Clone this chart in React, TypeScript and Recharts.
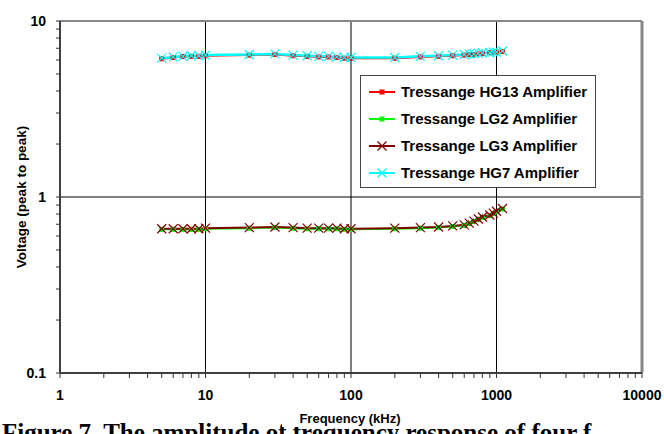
import React from "react";
import { LineChart, Line, XAxis, YAxis, ReferenceLine, Legend } from "recharts";

const freqs = [5, 6, 7, 8, 9, 10, 20, 30, 40, 50, 60, 70, 80, 90, 100, 200, 300, 400, 500, 600, 650, 700, 750, 800, 900, 950, 1000, 1100];
const hg13 = [6.1, 6.2, 6.28, 6.3, 6.3, 6.35, 6.4, 6.45, 6.35, 6.3, 6.25, 6.25, 6.2, 6.15, 6.15, 6.15, 6.25, 6.3, 6.35, 6.4, 6.45, 6.45, 6.5, 6.55, 6.6, 6.6, 6.65, 6.7];
const lg2 = [0.655, 0.655, 0.655, 0.655, 0.655, 0.66, 0.665, 0.67, 0.665, 0.66, 0.66, 0.66, 0.66, 0.655, 0.655, 0.66, 0.665, 0.67, 0.68, 0.69, 0.705, 0.725, 0.745, 0.765, 0.785, 0.805, 0.825, 0.855];
const lg3 = [0.66, 0.66, 0.66, 0.66, 0.66, 0.665, 0.67, 0.675, 0.67, 0.665, 0.665, 0.665, 0.665, 0.66, 0.66, 0.665, 0.67, 0.675, 0.685, 0.695, 0.71, 0.73, 0.75, 0.77, 0.79, 0.81, 0.83, 0.86];
const hg7 = [6.15, 6.25, 6.3, 6.35, 6.35, 6.4, 6.45, 6.5, 6.4, 6.35, 6.3, 6.3, 6.25, 6.2, 6.2, 6.2, 6.3, 6.35, 6.4, 6.45, 6.5, 6.5, 6.55, 6.6, 6.6, 6.65, 6.65, 6.75];

const xMajor = [1, 10, 100, 1000, 10000];
const xMinor = [2, 3, 4, 5, 6, 7, 8, 9, 20, 30, 40, 50, 60, 70, 80, 90, 200, 300, 400, 500, 600, 700, 800, 900, 2000, 3000, 4000, 5000, 6000, 7000, 8000, 9000];
const yMajor = [0.1, 1, 10];
const yMinor = [0.2, 0.3, 0.4, 0.5, 0.6, 0.7, 0.8, 0.9, 2, 3, 4, 5, 6, 7, 8, 9];
const gridX = [10, 100, 1000];
const gridY = [1];

const series = [
  { key: "hg13", name: "Tressange HG13 Amplifier", color: "#ff0000", marker: "square", width: 2 },
  { key: "lg2", name: "Tressange LG2 Amplifier", color: "#00ff00", marker: "square", width: 2 },
  { key: "lg3", name: "Tressange LG3 Amplifier", color: "#800000", marker: "x", width: 2 },
  { key: "hg7", name: "Tressange HG7 Amplifier", color: "#00ffff", marker: "x", width: 2.5 },
];

const data = freqs.map((f, i) => ({ f, hg13: hg13[i], lg2: lg2[i], lg3: lg3[i], hg7: hg7[i] }));

const FONT = "Arial, 'Liberation Sans', sans-serif";

function Marker({ cx, cy, type, color }: any) {
  if (cx == null || cy == null) return <g />;
  if (type === "square") {
    return <rect x={cx - 2} y={cy - 2} width={4} height={4} fill={color} stroke={color} />;
  }
  const s = 4.5;
  return (
    <g stroke={color} strokeWidth={1.2}>
      <line x1={cx - s} y1={cy - s} x2={cx + s} y2={cy + s} />
      <line x1={cx - s} y1={cy + s} x2={cx + s} y2={cy - s} />
    </g>
  );
}

const XTick = (props: any) => {
  const { x, y, payload } = props;
  const v = payload.value;
  const major = xMajor.some((m) => Math.abs(m - v) < 1e-9 * m);
  return (
    <g>
      <line x1={x} x2={x} y1={y} y2={y + 5} stroke="#333" strokeWidth={1} />
      {major && (
        <text x={x} y={y + 27} textAnchor="middle" fontFamily={FONT} fontWeight="bold" fontSize={14} fill="#000">
          {String(v)}
        </text>
      )}
    </g>
  );
};

const YTick = (props: any) => {
  const { x, y, payload } = props;
  const v = payload.value;
  const major = yMajor.some((m) => Math.abs(m - v) < 1e-9 * m);
  return (
    <g>
      <line x1={x - 4} x2={x} y1={y} y2={y} stroke="#333" strokeWidth={1} />
      {major && (
        <text x={x - 14} y={y} dy="0.35em" textAnchor="end" fontFamily={FONT} fontWeight="bold" fontSize={14} fill="#000">
          {String(v)}
        </text>
      )}
    </g>
  );
};

const LegendBox = () => (
  <div
    style={{
      width: 234,
      height: 109,
      border: "1px solid #444",
      background: "#fff",
      boxSizing: "content-box",
      paddingTop: 2,
    }}
  >
    {series.map((s) => (
      <div key={s.key} style={{ display: "flex", alignItems: "center", height: 27, paddingLeft: 8 }}>
        <svg width={28} height={12} style={{ marginRight: 4 }}>
          <line x1={0} x2={26} y1={6} y2={6} stroke={s.color} strokeWidth={2} />
          <Marker cx={13} cy={6} type={s.marker} color={s.color} />
        </svg>
        <span style={{ fontFamily: FONT, fontWeight: "bold", fontSize: 15, color: "#000", whiteSpace: "nowrap" }}>{s.name}</span>
      </div>
    ))}
  </div>
);

export default function App() {
  return (
    <div style={{ position: "absolute", left: 0, top: 0, width: 664, height: 434, background: "#fff", overflow: "hidden" }}>
      <div
        style={{
          position: "absolute",
          left: 2,
          top: 418,
          fontFamily: "'Liberation Serif', 'Times New Roman', serif",
          fontWeight: "bold",
          fontSize: 25,
          whiteSpace: "nowrap",
          lineHeight: "30px",
        }}
      >
        Figure 7. The amplitude of frequency response of four f
      </div>
      <div style={{ position: "absolute", left: 0, top: 0 }}>
        <LineChart width={664} height={434} data={data} margin={{ top: 21, right: 22, left: 0, bottom: 0 }}>
          <XAxis
            dataKey="f"
            type="number"
            scale="log"
            domain={[1, 10000]}
            allowDataOverflow
            ticks={[...xMajor, ...xMinor]}
            interval={0}
            tickSize={0}
            tickMargin={0}
            tickLine={false}
            axisLine={{ stroke: "#404040", strokeWidth: 2 }}
            tick={<XTick />}
            height={61}
          />
          <YAxis
            type="number"
            scale="log"
            domain={[0.1, 10]}
            allowDataOverflow
            ticks={[...yMajor, ...yMinor]}
            interval={0}
            tickSize={0}
            tickMargin={0}
            tickLine={false}
            axisLine={{ stroke: "#404040", strokeWidth: 2 }}
            tick={<YTick />}
            width={60}
            label={{
              value: "Voltage (peak to peak)",
              angle: -90,
              position: "insideLeft",
              offset: 0,
              dx: 21,
              style: { fontFamily: FONT, fontWeight: "bold", fontSize: 13.5, fill: "#000", textAnchor: "middle" },
            }}
          />
          {gridX.map((g) => (
            <ReferenceLine key={"gx" + g} x={g} stroke="#000" strokeWidth={1} />
          ))}
          {gridY.map((g) => (
            <ReferenceLine key={"gy" + g} y={g} stroke="#000" strokeWidth={1} />
          ))}
          <ReferenceLine y={10} stroke="#888" strokeWidth={2} />
          <ReferenceLine x={10000} stroke="#888" strokeWidth={3} />
          {series.map((s) => (
            <Line
              key={s.key}
              dataKey={s.key}
              name={s.name}
              stroke={s.color}
              strokeWidth={s.width}
              isAnimationActive={false}
              dot={(p: any) => <Marker key={s.key + p.index} cx={p.cx} cy={p.cy} type={s.marker} color={s.color} />}
              activeDot={false}
            />
          ))}
          <Legend
            layout="horizontal"
            verticalAlign="middle"
            align="center"
            wrapperStyle={{ position: "absolute", left: 360, top: 75, width: "auto", height: "auto" }}
            content={() => <LegendBox />}
          />
        </LineChart>
      </div>
      <div
        style={{
          position: "absolute",
          left: 282,
          top: 410,
          width: 136,
          height: 17,
          background: "#fff",
          textAlign: "center",
          fontFamily: FONT,
          fontWeight: "bold",
          fontSize: 13,
          lineHeight: "17px",
        }}
      >
        Frequency (kHz)
      </div>
    </div>
  );
}
